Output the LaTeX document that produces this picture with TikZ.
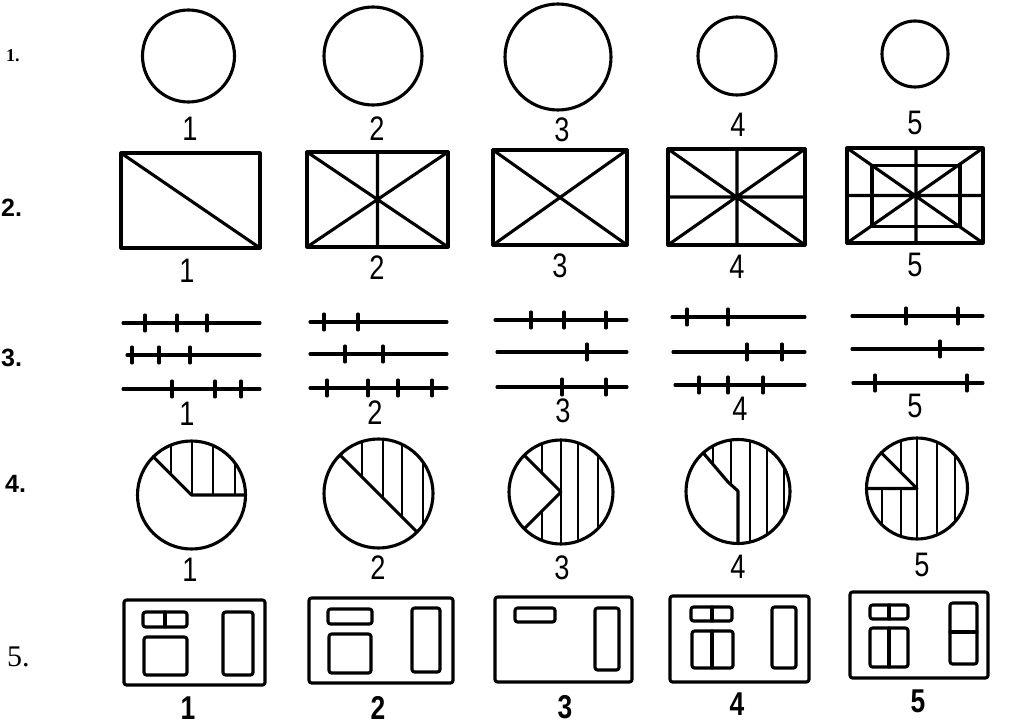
\documentclass[tikz,border=0pt]{standalone}
\usepackage{fontspec}
\newfontfamily\labfont{Liberation Sans}[FakeStretch=0.8]
\newfontfamily\rowfont{Liberation Serif}
\newfontfamily\rowsans{Liberation Sans}
\tikzset{
 shp/.style={line width=3.1pt, line join=round, line cap=round},
 hatch/.style={line width=2.6pt},
 lab/.style={font=\labfont\fontsize{34}{34}\selectfont, inner sep=0pt},
 blab/.style={font=\labfont\bfseries\fontsize{33}{33}\selectfont, inner sep=0pt},
 rowlab/.style={font=\rowsans\bfseries\fontsize{25}{25}\selectfont, inner sep=0pt, anchor=west},
 room/.style={shp, rounded corners=2.5pt},
}
\newcommand{\mytickline}[4]{%
 \draw[shp] (#1,#3) -- (#2,#3);
 \foreach \tk in {#4} \draw[shp] (\tk,#3-8) -- (\tk,#3+8);
}
\newcommand{\myhatch}[3]{%
 \foreach \hx in {#1} \draw[hatch] (\hx,#2-#3-5) -- (\hx,#2+#3+5);
}
\begin{document}
\begin{tikzpicture}[x=1pt,y=-1pt]
\useasboundingbox (0,0) rectangle (1027,725);
\fill[white] (0,0) rectangle (1027,725);
% row labels
\node[rowlab, font=\rowfont\bfseries\fontsize{18}{18}\selectfont] (r1) at (6,56) {1.};
\node[rowlab] (r2) at (1,208) {2.};
\node[rowlab] (r3) at (1,358) {3.};
\node[rowlab] (r4) at (5,484) {4.};
\node[rowlab, font=\rowfont\fontsize{30}{30}\selectfont] (r5) at (7,657) {5.};

% ---------- row 1: circles ----------
\draw[shp] (188.5,56) circle[radius=46pt];
\draw[shp] (373,56) circle[radius=49pt];
\draw[shp] (558,57) circle[radius=53pt];
\draw[shp] (737,56) circle[radius=39pt];
\draw[shp] (915,54) circle[radius=33pt];
\node[lab] (a1) at (190,129) {1};
\node[lab] (a2) at (377,129) {2};
\node[lab] (a3) at (562,130) {3};
\node[lab] (a4) at (738,125) {4};
\node[lab] (a5) at (915,123) {5};

% ---------- row 2: rectangles ----------
\draw[shp] (121,153) rectangle (260,248);
\draw[shp] (121,153) -- (260,248);
\draw[shp] (307,152) rectangle (448,247);
\draw[shp] (307,152) -- (448,247) (307,247) -- (448,152) (377.5,152) -- (377.5,247);
\draw[shp] (493,150) rectangle (627,245);
\draw[shp] (493,150) -- (627,245) (493,245) -- (627,150);
\draw[shp] (668,149) rectangle (805,245);
\draw[shp] (668,149) -- (805,245) (668,245) -- (805,149) (737,149) -- (737,245) (668,197) -- (805,197);
\draw[shp] (847,148) rectangle (983,243);
\draw[shp] (872,165.5) rectangle (960,226.5);
\draw[shp] (847,148) -- (983,243) (847,243) -- (983,148) (916,148) -- (916,243) (847,195.5) -- (983,195.5);
\node[lab] (b1) at (187,271) {1};
\node[lab] (b2) at (377,268) {2};
\node[lab] (b3) at (560,266) {3};
\node[lab] (b4) at (737,267) {4};
\node[lab] (b5) at (915,265) {5};

% ---------- row 3: ticked lines ----------
\mytickline{123}{260}{323}{145,177,207}
\mytickline{127}{260}{355}{132,159,190}
\mytickline{123}{260}{389}{172,215,241}
\mytickline{310}{447}{322}{324,358}
\mytickline{310}{447}{354}{345,383}
\mytickline{310}{447}{388}{327,368,398,432}
\mytickline{495}{627}{320}{531,564,606}
\mytickline{497}{627}{352}{587}
\mytickline{497}{627}{387}{562,606}
\mytickline{672}{805}{317}{687,728}
\mytickline{673}{805}{352}{747,782}
\mytickline{675}{805}{385}{699,728,763}
\mytickline{852}{983}{316}{906,958}
\mytickline{852}{983}{349}{940}
\mytickline{853}{983}{383}{875,967}
\node[lab] (c1) at (187,414) {1};
\node[lab] (c2) at (375,413) {2};
\node[lab] (c3) at (563,411) {3};
\node[lab] (c4) at (740,409) {4};
\node[lab] (c5) at (915,406) {5};

% ---------- row 4: hatched circles ----------
% circle 1
\begin{scope}
 \clip (191.5,495) -- ++(135:54pt) arc[start angle=135, end angle=0, radius=54pt] -- cycle;
 \myhatch{171,192,213,235}{495}{54}
\end{scope}
\draw[shp] (191.5,495) circle[radius=54pt];
\draw[shp] (191.5,495) ++(135:54pt) -- (191.5,495) -- ++(0:54pt);
% circle 2
\begin{scope}
 \clip (378.5,493.5) -- ++(135:54.5pt) arc[start angle=135, end angle=-45, radius=54.5pt] -- cycle;
 \myhatch{362,383,402,423}{493.5}{54.5}
\end{scope}
\draw[shp] (378.5,493.5) circle[radius=54.5pt];
\draw[shp] (378.5,493.5) ++(135:54.5pt) -- ++(-45:109pt);
% circle 3
\begin{scope}
 \clip (561,492) -- ++(-135:52pt) arc[start angle=-135, end angle=135, radius=52pt] -- cycle;
 \myhatch{542,561,578,598}{492}{52}
\end{scope}
\draw[shp] (561,492) circle[radius=52pt];
\draw[shp] (561,492) ++(135:52pt) -- (561,492) -- ++(-135:52pt);
% circle 4
\begin{scope}
 \clip (703.2,452.9) -- (728,482) -- (738,491) -- (738,543.5) arc[start angle=-90, end angle=132, radius=52pt] -- cycle;
 \myhatch{713,731,750,767,784}{491.5}{52}
\end{scope}
\draw[shp] (738,491.5) circle[radius=52pt];
\draw[shp] (703.2,452.9) -- (728,482) -- (738,491) -- (738,543.5);
% circle 5
\begin{scope}
 \clip (917,488.5) -- ++(180:50.5pt) arc[start angle=180, end angle=495, radius=50.5pt] -- cycle;
 \myhatch{882,901,917,937,955}{488.5}{50.5}
\end{scope}
\draw[shp] (917,488.5) circle[radius=50.5pt];
\draw[shp] (917,488.5) ++(135:50.5pt) -- (917,488.5) -- ++(180:50.5pt);
\node[lab] (d1) at (190,570) {1};
\node[lab] (d2) at (378,568) {2};
\node[lab] (d3) at (562,568) {3};
\node[lab] (d4) at (738,567) {4};
\node[lab] (d5) at (922,565) {5};

% ---------- row 5: plans ----------
% 1
\draw[room] (124,600) rectangle (265,685);
\draw[room] (143,612) rectangle (187,627);
\draw[shp] (165,612) -- (165,627);
\draw[room] (144,637) rectangle (187,675);
\draw[room] (223,612) rectangle (253,675);
% 2
\draw[room] (309,598) rectangle (453,683);
\draw[room] (328,609) rectangle (372,624);
\draw[room] (329,634) rectangle (371,673);
\draw[room] (412,608) rectangle (440,672);
% 3
\draw[room] (495,597) rectangle (632,682);
\draw[room] (515,608) rectangle (555,622);
\draw[room] (595,608) rectangle (619,670);
% 4
\draw[room] (670,596) rectangle (809,682);
\draw[room] (691,607) rectangle (732,621);
\draw[shp] (712,607) -- (712,621);
\draw[room] (692,631) rectangle (733,668);
\draw[shp] (712,631) -- (712,668);
\draw[room] (772,607) rectangle (796,668);
% 5
\draw[room] (850,592) rectangle (988,678);
\draw[room] (870,605) rectangle (908,619);
\draw[shp] (889,605) -- (889,619);
\draw[room] (870,628) rectangle (908,667);
\draw[shp] (889,628) -- (889,667);
\draw[room] (950,603) rectangle (977,664);
\draw[shp] (950,632) -- (977,632);
\node[blab] (e1) at (188,708) {1};
\node[blab] (e2) at (378,708) {2};
\node[blab] (e3) at (565,707) {3};
\node[blab] (e4) at (737,704) {4};
\node[blab] (e5) at (918,701) {5};
\end{tikzpicture}
\end{document}
